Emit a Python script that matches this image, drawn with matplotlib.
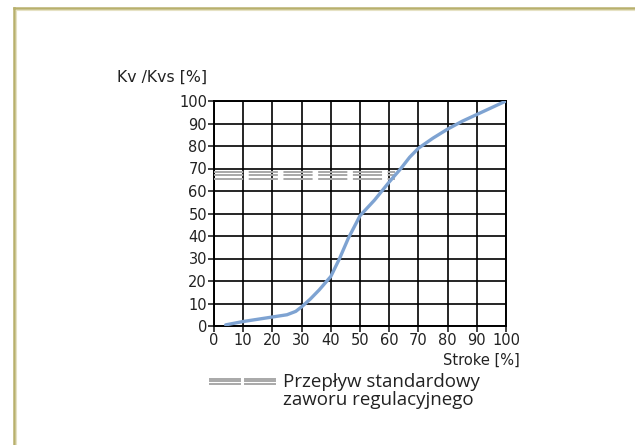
import numpy as np
import matplotlib.pyplot as plt
from matplotlib.lines import Line2D

# valve characteristic
stroke = [4, 10, 15, 20, 25, 28, 30, 33, 36, 40, 43, 46, 50, 55, 60, 64, 67, 70, 75, 80, 85, 90, 95, 100]
kv = [0.5, 2.0, 3.0, 4.0, 5.0, 6.5, 8.5, 12, 16, 22, 30, 39, 49, 56, 64, 70, 75, 79, 83.5, 87.5, 91, 94, 97, 100]

# standard flow band (three grey stripes)
band_levels = [65.3, 66.9, 68.4]
band_end = 62

ticks = list(range(0, 101, 10))
legend_text = 'Przepływ standardowy\nzaworu regulacyjnego'

plt.rcParams['lines.scale_dashes'] = False

fig = plt.figure(figsize=(6.35, 4.45), dpi=100)
ax = fig.add_axes([214 / 635, 1 - 326 / 445, 292 / 635, 225 / 445])

ax.set_xlim(0, 100)
ax.set_ylim(0, 100)
ax.set_xticks(ticks)
ax.set_yticks(ticks)
ax.grid(True, color='black', linewidth=1.2)
ax.set_axisbelow(True)
for s in ax.spines.values():
    s.set_linewidth(1.4)
ax.tick_params(direction='out', length=4, width=1.2, pad=1, labelsize=10.5, colors='#222222')

for lv in band_levels:
    ax.plot([0, band_end], [lv, lv], color='#a8a8a8', linewidth=1.4,
            dashes=[21, 4], zorder=3)

ax.plot(stroke, kv, color='#7ea3d2', linewidth=2.4, solid_capstyle='round', zorder=4)

fig.text(117 / 635, 1 - 77 / 445, 'Kv /Kvs [%]', fontsize=11.3, color='#222222', va='center')
fig.text(520 / 635, 1 - 360 / 445, 'Stroke [%]', fontsize=10.5, color='#222222', va='center', ha='right')

# legend symbol
for dy in [-2.5, 0, 2.5]:
    yy = 1 - (381 + dy) / 445
    fig.add_artist(Line2D([210 / 635, 240 / 635], [yy, yy], color='#a8a8a8', linewidth=1.4))
    fig.add_artist(Line2D([245 / 635, 275 / 635], [yy, yy], color='#a8a8a8', linewidth=1.4))
fig.text(283 / 635, 1 - 391 / 445, legend_text, family='Open Sans', fontsize=13.5,
         color='#222222', va='center', linespacing=0.95)

# frame
fig.add_artist(Line2D([14 / 635, 14 / 635], [0, 1 - 8 / 445], color='#b8b06c', linewidth=1.8))
fig.add_artist(Line2D([14 / 635, 1], [1 - 8 / 445, 1 - 8 / 445], color='#b8b06c', linewidth=1.8))
fig.add_artist(Line2D([16 / 635, 16 / 635], [0, 1 - 10 / 445], color='#e6e2c4', linewidth=0.8))
fig.add_artist(Line2D([16 / 635, 1], [1 - 10 / 445, 1 - 10 / 445], color='#e6e2c4', linewidth=0.8))

fig.savefig('out.png', dpi=100)
